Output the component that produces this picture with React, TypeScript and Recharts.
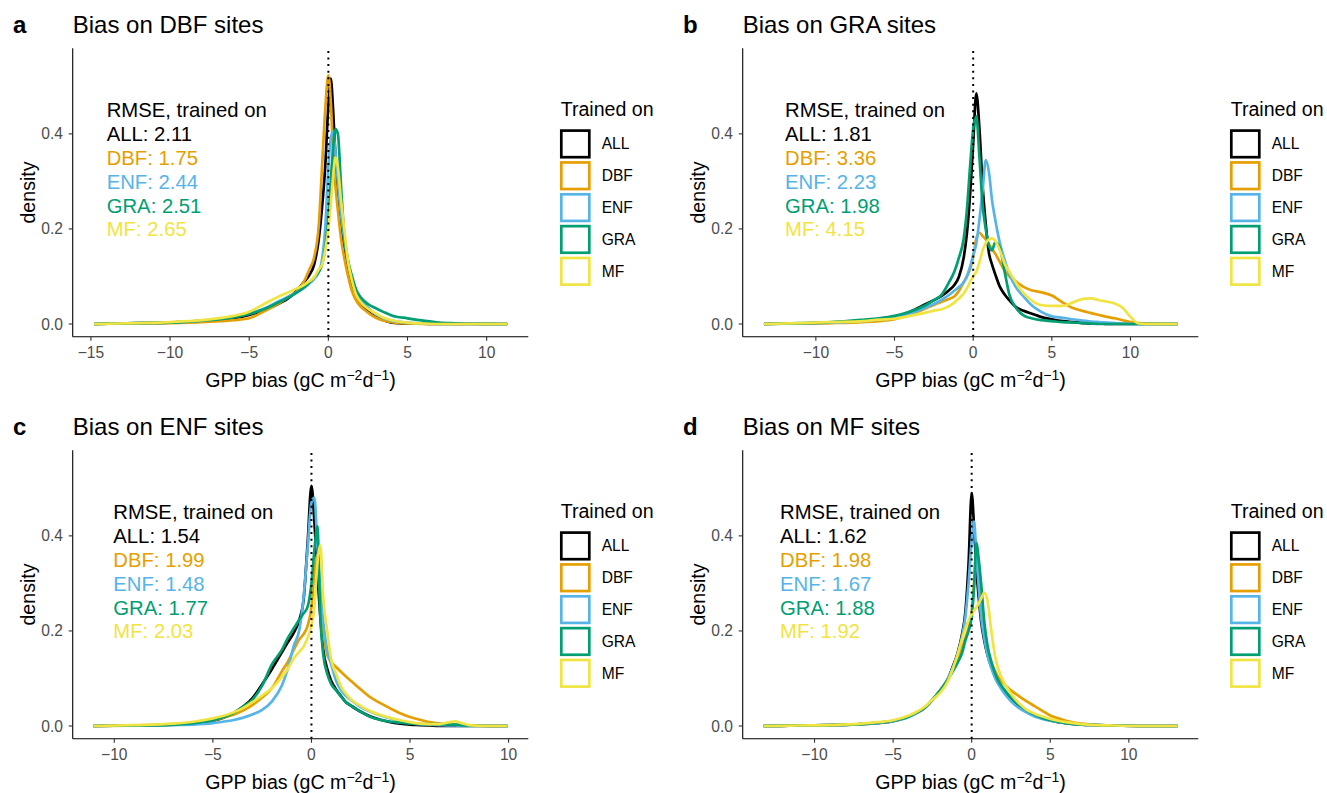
import { LineChart, Line, XAxis, YAxis, ReferenceLine } from "recharts"

// series order / colours (Okabe-Ito)
const trainedOn = ["ALL", "DBF", "ENF", "GRA", "MF"]
const colors = ["#000000", "#E69F00", "#56B4E9", "#009E73", "#F0E442"]
const yTicks = [0, 0.2, 0.4]

// ---- panel a: bias on DBF sites
const gridDBF = [-14.8, -12, -10, -8, -6, -5, -4, -3, -2.5, -2, -1.5, -1.2, -0.9, -0.6, -0.4, -0.2, 0, 0.15, 0.3, 0.45, 0.6, 0.8, 1.0, 1.25, 1.5, 1.75, 2, 2.5, 3, 3.5, 4, 5, 6, 7, 8, 9, 11.3]
const allOnDBF = [0, 0.002, 0.003, 0.006, 0.012, 0.019, 0.03, 0.045, 0.055, 0.07, 0.09, 0.103, 0.125, 0.18, 0.245, 0.33, 0.46, 0.516, 0.45, 0.35, 0.28, 0.21, 0.16, 0.115, 0.085, 0.062, 0.047, 0.027, 0.015, 0.008, 0.003, 0.001, 0.0005, 0, 0, 0, 0]
const dbfOnDBF = [0, 0.001, 0.002, 0.004, 0.008, 0.012, 0.028, 0.046, 0.058, 0.068, 0.092, 0.115, 0.14, 0.21, 0.33, 0.45, 0.523, 0.47, 0.36, 0.29, 0.24, 0.18, 0.14, 0.1, 0.068, 0.05, 0.038, 0.024, 0.013, 0.007, 0.004, 0.001, 0, 0, 0, 0, 0]
const enfOnDBF = [0, 0.002, 0.003, 0.007, 0.015, 0.022, 0.033, 0.05, 0.058, 0.067, 0.077, 0.085, 0.095, 0.11, 0.135, 0.2, 0.33, 0.39, 0.405, 0.36, 0.3, 0.23, 0.18, 0.13, 0.095, 0.072, 0.055, 0.035, 0.02, 0.012, 0.007, 0.003, 0.001, 0, 0, 0, 0]
const graOnDBF = [0, 0.002, 0.003, 0.007, 0.014, 0.021, 0.032, 0.048, 0.056, 0.066, 0.078, 0.087, 0.098, 0.11, 0.125, 0.16, 0.22, 0.3, 0.37, 0.41, 0.4, 0.29, 0.19, 0.132, 0.1, 0.072, 0.058, 0.042, 0.033, 0.025, 0.018, 0.012, 0.007, 0.003, 0.0015, 0.0005, 0]
const mfOnDBF = [0, 0.002, 0.004, 0.008, 0.017, 0.026, 0.043, 0.06, 0.067, 0.075, 0.083, 0.09, 0.098, 0.115, 0.125, 0.155, 0.2, 0.25, 0.31, 0.35, 0.33, 0.26, 0.2, 0.13, 0.09, 0.062, 0.048, 0.032, 0.022, 0.013, 0.008, 0.003, 0.001, 0, 0, 0, 0]
const rmseDBF = ["2.11", "1.75", "2.44", "2.51", "2.65"]

// ---- panel b: bias on GRA sites
const gridGRA = [-13.3, -11, -9, -7, -6, -5, -4, -3, -2.5, -2, -1.5, -1.2, -0.9, -0.6, -0.4, -0.2, 0, 0.2, 0.4, 0.6, 0.8, 1.0, 1.2, 1.4, 1.7, 2, 2.3, 2.7, 3.2, 3.7, 4.3, 5, 5.7, 6.3, 7, 7.5, 8, 8.5, 9, 9.5, 10, 10.5, 11, 12, 13]
const allOnGRA = [0, 0.001, 0.003, 0.006, 0.009, 0.014, 0.026, 0.042, 0.05, 0.059, 0.072, 0.082, 0.1, 0.14, 0.19, 0.27, 0.38, 0.485, 0.41, 0.29, 0.21, 0.15, 0.125, 0.105, 0.078, 0.062, 0.05, 0.036, 0.028, 0.022, 0.015, 0.01, 0.006, 0.004, 0.002, 0.001, 0.001, 0, 0, 0, 0, 0, 0, 0, 0]
const dbfOnGRA = [0, 0.001, 0.002, 0.004, 0.006, 0.01, 0.02, 0.033, 0.04, 0.047, 0.053, 0.058, 0.07, 0.088, 0.1, 0.115, 0.14, 0.18, 0.192, 0.185, 0.178, 0.168, 0.158, 0.148, 0.13, 0.112, 0.1, 0.09, 0.078, 0.071, 0.067, 0.06, 0.045, 0.034, 0.027, 0.023, 0.019, 0.015, 0.012, 0.008, 0.004, 0.002, 0.001, 0, 0]
const enfOnGRA = [0, 0.001, 0.003, 0.006, 0.009, 0.013, 0.022, 0.035, 0.042, 0.051, 0.062, 0.07, 0.078, 0.088, 0.1, 0.12, 0.145, 0.17, 0.22, 0.28, 0.345, 0.32, 0.26, 0.22, 0.17, 0.135, 0.105, 0.078, 0.058, 0.04, 0.026, 0.016, 0.013, 0.01, 0.007, 0.005, 0.004, 0.003, 0.002, 0.001, 0, 0, 0, 0, 0]
const graOnGRA = [0, 0.002, 0.004, 0.009, 0.012, 0.017, 0.026, 0.04, 0.05, 0.062, 0.09, 0.11, 0.14, 0.18, 0.24, 0.33, 0.41, 0.437, 0.35, 0.25, 0.2, 0.165, 0.155, 0.172, 0.16, 0.11, 0.062, 0.035, 0.018, 0.012, 0.008, 0.006, 0.004, 0.003, 0.002, 0.001, 0, 0, 0, 0, 0, 0, 0, 0, 0]
const mfOnGRA = [0, 0.002, 0.004, 0.006, 0.009, 0.011, 0.017, 0.024, 0.028, 0.031, 0.038, 0.045, 0.054, 0.064, 0.075, 0.088, 0.1, 0.11, 0.13, 0.155, 0.17, 0.178, 0.18, 0.175, 0.155, 0.127, 0.11, 0.088, 0.065, 0.05, 0.04, 0.038, 0.038, 0.045, 0.053, 0.054, 0.05, 0.047, 0.043, 0.034, 0.015, 0.001, 0, 0, 0]
const rmseGRA = ["1.81", "3.36", "2.23", "1.98", "4.15"]

// ---- panel c: bias on ENF sites
const gridENF = [-11.06, -9, -7, -6, -5, -4.5, -4, -3.5, -3, -2.5, -2, -1.5, -1.2, -0.9, -0.6, -0.4, -0.2, 0, 0.15, 0.3, 0.45, 0.6, 0.8, 1.0, 1.25, 1.5, 1.75, 2, 2.5, 3, 3.5, 4, 4.5, 5, 5.5, 6, 6.5, 7, 7.3, 7.6, 8, 9, 9.95]
const allOnENF = [0, 0.001, 0.003, 0.006, 0.011, 0.017, 0.026, 0.04, 0.058, 0.088, 0.12, 0.155, 0.176, 0.196, 0.225, 0.265, 0.38, 0.505, 0.43, 0.32, 0.23, 0.16, 0.12, 0.095, 0.077, 0.063, 0.05, 0.043, 0.03, 0.02, 0.013, 0.008, 0.005, 0.003, 0.002, 0.001, 0, 0, 0, 0, 0, 0, 0]
const dbfOnENF = [0, 0.001, 0.004, 0.007, 0.012, 0.017, 0.023, 0.032, 0.044, 0.06, 0.08, 0.115, 0.135, 0.16, 0.183, 0.193, 0.21, 0.25, 0.32, 0.36, 0.27, 0.2, 0.15, 0.135, 0.124, 0.114, 0.104, 0.095, 0.077, 0.06, 0.048, 0.037, 0.027, 0.019, 0.013, 0.008, 0.005, 0.004, 0.003, 0.002, 0.001, 0, 0]
const enfOnENF = [0, 0.001, 0.002, 0.003, 0.006, 0.009, 0.012, 0.017, 0.024, 0.034, 0.052, 0.085, 0.12, 0.168, 0.205, 0.27, 0.37, 0.47, 0.48, 0.38, 0.29, 0.22, 0.16, 0.13, 0.095, 0.075, 0.063, 0.055, 0.04, 0.03, 0.022, 0.016, 0.01, 0.006, 0.004, 0.003, 0.002, 0.001, 0.001, 0, 0, 0, 0]
const graOnENF = [0, 0.001, 0.003, 0.006, 0.012, 0.018, 0.026, 0.04, 0.055, 0.085, 0.13, 0.16, 0.185, 0.205, 0.225, 0.237, 0.25, 0.3, 0.37, 0.42, 0.23, 0.15, 0.11, 0.088, 0.075, 0.062, 0.05, 0.043, 0.03, 0.019, 0.013, 0.009, 0.007, 0.005, 0.004, 0.004, 0.004, 0.003, 0.003, 0.002, 0.001, 0, 0]
const mfOnENF = [0, 0.002, 0.005, 0.009, 0.016, 0.021, 0.028, 0.037, 0.05, 0.064, 0.08, 0.103, 0.12, 0.142, 0.157, 0.167, 0.185, 0.21, 0.25, 0.34, 0.38, 0.27, 0.2, 0.14, 0.11, 0.083, 0.068, 0.056, 0.042, 0.031, 0.023, 0.017, 0.012, 0.008, 0.005, 0.004, 0.004, 0.008, 0.01, 0.006, 0.002, 0, 0]
const rmseENF = ["1.54", "1.99", "1.48", "1.77", "2.03"]

// ---- panel d: bias on MF sites
const gridMF = [-13.25, -11, -9, -7, -6, -5, -4, -3.5, -3, -2.5, -2, -1.5, -1.2, -0.9, -0.6, -0.4, -0.2, 0, 0.15, 0.3, 0.45, 0.6, 0.8, 1.0, 1.25, 1.5, 1.75, 2, 2.5, 3, 3.5, 4, 4.5, 5, 5.5, 6, 7, 8, 9, 11, 13.1]
const allOnMF = [0, 0.001, 0.002, 0.004, 0.006, 0.01, 0.02, 0.028, 0.038, 0.055, 0.075, 0.1, 0.125, 0.153, 0.195, 0.24, 0.34, 0.49, 0.42, 0.33, 0.27, 0.22, 0.18, 0.15, 0.125, 0.105, 0.088, 0.075, 0.055, 0.04, 0.03, 0.022, 0.016, 0.012, 0.008, 0.006, 0.003, 0.002, 0.001, 0, 0]
const dbfOnMF = [0, 0.001, 0.002, 0.004, 0.007, 0.011, 0.02, 0.028, 0.038, 0.055, 0.075, 0.1, 0.12, 0.14, 0.165, 0.185, 0.205, 0.24, 0.3, 0.365, 0.31, 0.26, 0.21, 0.165, 0.135, 0.115, 0.1, 0.09, 0.075, 0.063, 0.052, 0.042, 0.032, 0.022, 0.016, 0.011, 0.005, 0.002, 0.001, 0, 0]
const enfOnMF = [0, 0.001, 0.002, 0.004, 0.006, 0.01, 0.019, 0.027, 0.038, 0.055, 0.074, 0.1, 0.123, 0.15, 0.19, 0.23, 0.3, 0.39, 0.43, 0.36, 0.29, 0.23, 0.185, 0.15, 0.122, 0.1, 0.085, 0.072, 0.052, 0.038, 0.028, 0.02, 0.015, 0.011, 0.008, 0.006, 0.003, 0.002, 0.001, 0, 0]
const graOnMF = [0, 0.001, 0.002, 0.004, 0.007, 0.011, 0.02, 0.028, 0.038, 0.055, 0.075, 0.098, 0.115, 0.133, 0.155, 0.18, 0.2, 0.23, 0.29, 0.385, 0.35, 0.3, 0.22, 0.17, 0.135, 0.11, 0.092, 0.08, 0.06, 0.045, 0.033, 0.024, 0.017, 0.012, 0.009, 0.006, 0.003, 0.002, 0.001, 0, 0]
const mfOnMF = [0, 0.001, 0.002, 0.005, 0.008, 0.012, 0.022, 0.03, 0.04, 0.055, 0.07, 0.095, 0.12, 0.15, 0.185, 0.205, 0.222, 0.235, 0.243, 0.25, 0.258, 0.268, 0.28, 0.265, 0.2, 0.145, 0.115, 0.095, 0.068, 0.048, 0.034, 0.026, 0.02, 0.015, 0.011, 0.008, 0.004, 0.002, 0.001, 0, 0]
const rmseMF = ["1.62", "1.98", "1.67", "1.88", "1.92"]

const FONT = '"Liberation Sans", Arial, Helvetica, sans-serif'
const W = 670
const H = 401.7

const fmtX = (v: number) => (v < 0 ? "\u2212" + Math.abs(v) : String(v))

function Panel({ left, top, tag, title, grid, series, rmse, xDomain, xTicks, noteX }: any) {
  const rows = grid.map((x: number, i: number) => {
    const r: any = { x }
    trainedOn.forEach((k, j) => (r[k] = series[j][i]))
    return r
  })
  const tickStyle = { fontSize: 15.6, fill: "#4D4D4D", fontFamily: FONT }
  return (
    <div style={{ position: "absolute", left, top, width: W, height: H }}>
      <LineChart width={W} height={H} data={rows} margin={{ top: 48.3, right: 141.7, bottom: 25, left: 12.7 }}>
        <XAxis
          type="number"
          dataKey="x"
          domain={xDomain}
          ticks={xTicks}
          allowDataOverflow
          height={40}
          tickSize={4}
          tickMargin={6.5}
          tickFormatter={fmtX}
          tick={tickStyle}
          axisLine={{ stroke: "#000", strokeWidth: 1.1 }}
          tickLine={{ stroke: "#333", strokeWidth: 1.1 }}
        />
        <YAxis
          type="number"
          domain={[-0.0267, 0.58]}
          ticks={yTicks}
          allowDataOverflow
          width={60}
          tickSize={4}
          tickMargin={5.7}
          tickFormatter={(v: number) => v.toFixed(1)}
          tick={tickStyle}
          axisLine={{ stroke: "#000", strokeWidth: 1.1 }}
          tickLine={{ stroke: "#333", strokeWidth: 1.1 }}
        />
        {trainedOn.map((k, j) => (
          <Line key={k} dataKey={k} type="monotone" stroke={colors[j]} strokeWidth={2.7} dot={false} isAnimationActive={false} />
        ))}
        <ReferenceLine x={0} stroke="#000" strokeWidth={2} strokeDasharray="2 4.6" />
      </LineChart>
      <svg width={W} height={H} style={{ position: "absolute", left: 0, top: 0, pointerEvents: "none" }} fontFamily={FONT}>
        <text x={13} y={33.3} fontSize={24} fontWeight="bold">{tag}</text>
        <text x={72.7} y={33.3} fontSize={24}>{title}</text>
        <text transform="rotate(-90)" x={-192.5} y={35} fontSize={19.6} textAnchor="middle">density</text>
        <text x={300.5} y={386.7} fontSize={19.6} textAnchor="middle">
          GPP bias (gC m<tspan dy={-7} fontSize={14}>{"\u22122"}</tspan>
          <tspan dy={7}>d</tspan>
          <tspan dy={-7} fontSize={14}>{"\u22121"}</tspan>
          <tspan dy={7}>)</tspan>
        </text>
        <text x={noteX} y={117.3} fontSize={20.3}>RMSE, trained on</text>
        {trainedOn.map((k, j) => (
          <text key={k} x={noteX} y={117.3 + 23.8 * (j + 1)} fontSize={20.3} fill={colors[j]}>
            {k}: {rmse[j]}
          </text>
        ))}
        <text x={560.7} y={116} fontSize={19.6}>Trained on</text>
        {trainedOn.map((k, j) => (
          <g key={k}>
            <rect x={561.3} y={130.6 + 31.85 * j} width={28} height={26.6} fill="#fff" stroke={colors[j]} strokeWidth={2.7} />
            <text x={601.7} y={149.3 + 31.85 * j} fontSize={15.6}>{k}</text>
          </g>
        ))}
      </svg>
    </div>
  )
}

export default function App() {
  return (
    <div style={{ position: "absolute", left: 0, top: 0, width: 1327, height: 793, background: "#fff" }}>
      <Panel left={0} top={0} tag="a" title="Bias on DBF sites" grid={gridDBF}
        series={[allOnDBF, dbfOnDBF, enfOnDBF, graOnDBF, mfOnDBF]} rmse={rmseDBF}
        xDomain={[-16.15, 12.63]} xTicks={[-15, -10, -5, 0, 5, 10]} noteX={106.7} />
      <Panel left={670} top={0} tag="b" title="Bias on GRA sites" grid={gridGRA}
        series={[allOnGRA, dbfOnGRA, enfOnGRA, graOnGRA, mfOnGRA]} rmse={rmseGRA}
        xDomain={[-14.65, 14.31]} xTicks={[-10, -5, 0, 5, 10]} noteX={115} />
      <Panel left={0} top={401.7} tag="c" title="Bias on ENF sites" grid={gridENF}
        series={[allOnENF, dbfOnENF, enfOnENF, graOnENF, mfOnENF]} rmse={rmseENF}
        xDomain={[-12.11, 11.0]} xTicks={[-10, -5, 0, 5, 10]} noteX={113.3} />
      <Panel left={670} top={401.7} tag="d" title="Bias on MF sites" grid={gridMF}
        series={[allOnMF, dbfOnMF, enfOnMF, graOnMF, mfOnMF]} rmse={rmseMF}
        xDomain={[-14.57, 14.42]} xTicks={[-10, -5, 0, 5, 10]} noteX={110} />
    </div>
  )
}
